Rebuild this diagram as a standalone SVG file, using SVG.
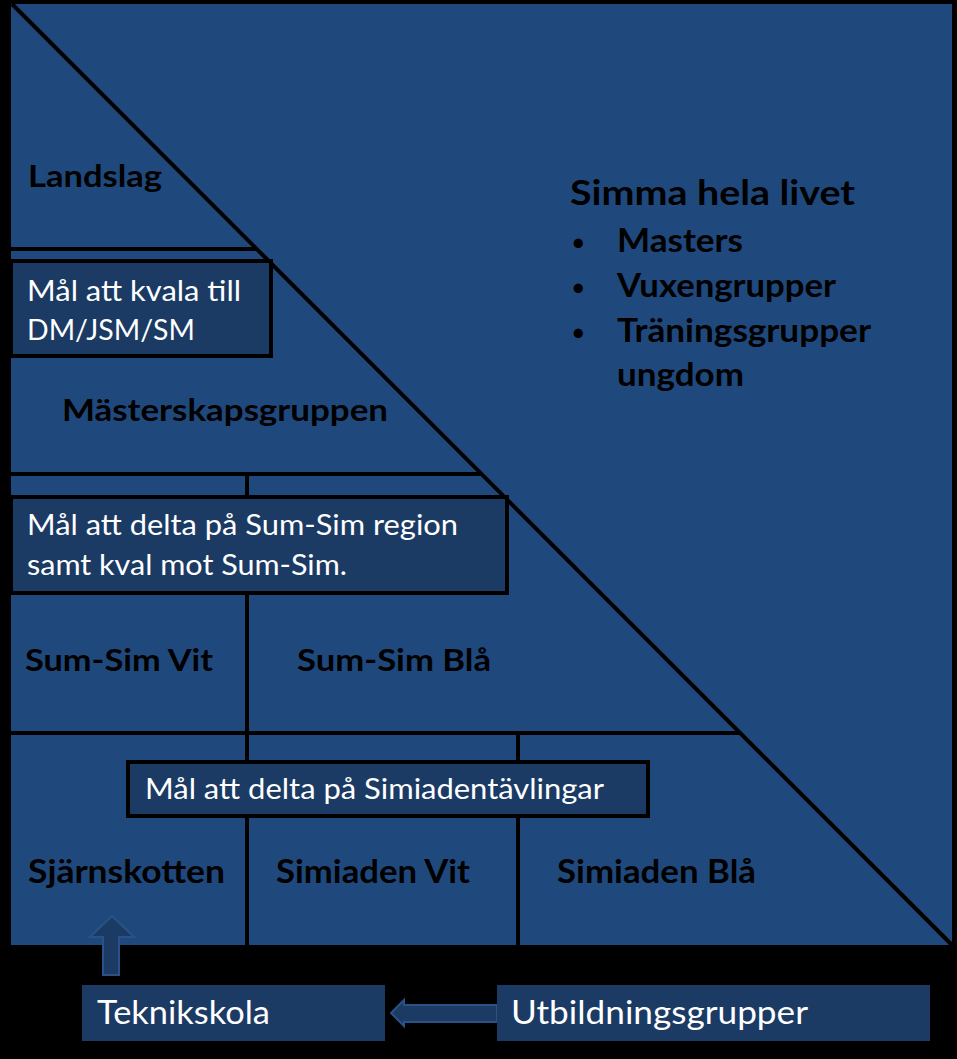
<svg xmlns="http://www.w3.org/2000/svg" width="957" height="1059" viewBox="0 0 957 1059">
<style>
.lbl{font-family:Lato,"Liberation Sans",sans-serif;font-weight:bold;fill:#000;}
.wt{font-family:Lato,"Liberation Sans",sans-serif;fill:#fff;}
.box{fill:#1B3A64;stroke:#000;stroke-width:4;}
.ln{stroke:#000;stroke-width:4;fill:none;}
.arr{fill:#1B3A64;stroke:#2A5286;stroke-width:2;}
.bul{font-family:Lato,"Liberation Sans",sans-serif;fill:#000;font-size:25px;}
</style>
<rect x="0" y="0" width="957" height="1059" fill="#000"/>
<rect id="main" x="11" y="4" width="941" height="941" fill="#1F497D"/>
<g id="connectors">
<line class="ln" x1="12" y1="4" x2="952" y2="945"/>
<line class="ln" x1="11" y1="249" x2="257" y2="249"/>
<line class="ln" x1="11" y1="474" x2="481" y2="474"/>
<line class="ln" x1="11" y1="733" x2="741" y2="733"/>
<line class="ln" x1="247" y1="474" x2="247" y2="945"/>
<line class="ln" x1="518" y1="733" x2="518" y2="945"/>
<polygon class="arr" points="103,975 119,975 119,937 134,937 112,916 90,937 103,937"/>
<polygon class="arr" points="497,1005 497,1022 404,1022 404,1026 391,1013 404,1000 404,1005"/>
</g>
<g id="landslag"><text class="lbl" x="28" y="187" font-size="30" textLength="134" lengthAdjust="spacingAndGlyphs">Landslag</text></g>
<g id="goal-dm">
<rect class="box" x="11" y="261" width="260" height="95"/>
<text class="wt" x="27" y="301" font-size="28" textLength="214" lengthAdjust="spacingAndGlyphs">Mål att kvala till</text>
<text class="wt" x="27" y="340" font-size="28" textLength="168" lengthAdjust="spacingAndGlyphs">DM/JSM/SM</text>
</g>
<g id="masterskap"><text class="lbl" x="62" y="421" font-size="30" textLength="326" lengthAdjust="spacingAndGlyphs">Mästerskapsgruppen</text></g>
<g id="goal-sumsim">
<rect class="box" x="11" y="497" width="496" height="96"/>
<text class="wt" x="27" y="535" font-size="28" textLength="431" lengthAdjust="spacingAndGlyphs">Mål att delta på Sum-Sim region</text>
<text class="wt" x="27" y="575" font-size="28" textLength="320" lengthAdjust="spacingAndGlyphs">samt kval mot Sum-Sim.</text>
</g>
<g id="sumsim-vit"><text class="lbl" x="25" y="671" font-size="30" textLength="188" lengthAdjust="spacingAndGlyphs">Sum-Sim Vit</text></g>
<g id="sumsim-bla"><text class="lbl" x="297" y="671" font-size="30" textLength="194" lengthAdjust="spacingAndGlyphs">Sum-Sim Blå</text></g>
<g id="goal-simiaden">
<rect class="box" x="128" y="762" width="520" height="54"/>
<text class="wt" x="145" y="799" font-size="28" textLength="459" lengthAdjust="spacingAndGlyphs">Mål att delta på Simiadentävlingar</text>
</g>
<g id="sjarnskotten"><text class="lbl" x="28" y="883" font-size="32" textLength="197" lengthAdjust="spacingAndGlyphs">Sjärnskotten</text></g>
<g id="simiaden-vit"><text class="lbl" x="276" y="883" font-size="32" textLength="194" lengthAdjust="spacingAndGlyphs">Simiaden Vit</text></g>
<g id="simiaden-bla"><text class="lbl" x="557" y="883" font-size="32" textLength="199" lengthAdjust="spacingAndGlyphs">Simiaden Blå</text></g>
<g id="simma">
<text class="lbl" x="570" y="205" font-size="35" textLength="285" lengthAdjust="spacingAndGlyphs">Simma hela livet</text>
<text class="bul" x="571" y="251">•</text>
<text class="lbl" x="617" y="252" font-size="33" textLength="126" lengthAdjust="spacingAndGlyphs">Masters</text>
<text class="bul" x="571" y="296">•</text>
<text class="lbl" x="617" y="297" font-size="33" textLength="219" lengthAdjust="spacingAndGlyphs">Vuxengrupper</text>
<text class="bul" x="571" y="341">•</text>
<text class="lbl" x="617" y="342" font-size="33" textLength="254" lengthAdjust="spacingAndGlyphs">Träningsgrupper</text>
<text class="lbl" x="617" y="386" font-size="33" textLength="127" lengthAdjust="spacingAndGlyphs">ungdom</text>
</g>
<g id="teknikskola">
<rect x="82" y="985" width="303" height="56" fill="#1B3A64"/>
<text class="wt" x="97" y="1024" font-size="32" textLength="173" lengthAdjust="spacingAndGlyphs">Teknikskola</text>
</g>
<g id="utbildning">
<rect x="497" y="985" width="433" height="56" fill="#1B3A64"/>
<text class="wt" x="511" y="1024" font-size="32" textLength="297" lengthAdjust="spacingAndGlyphs">Utbildningsgrupper</text>
</g>
</svg>
